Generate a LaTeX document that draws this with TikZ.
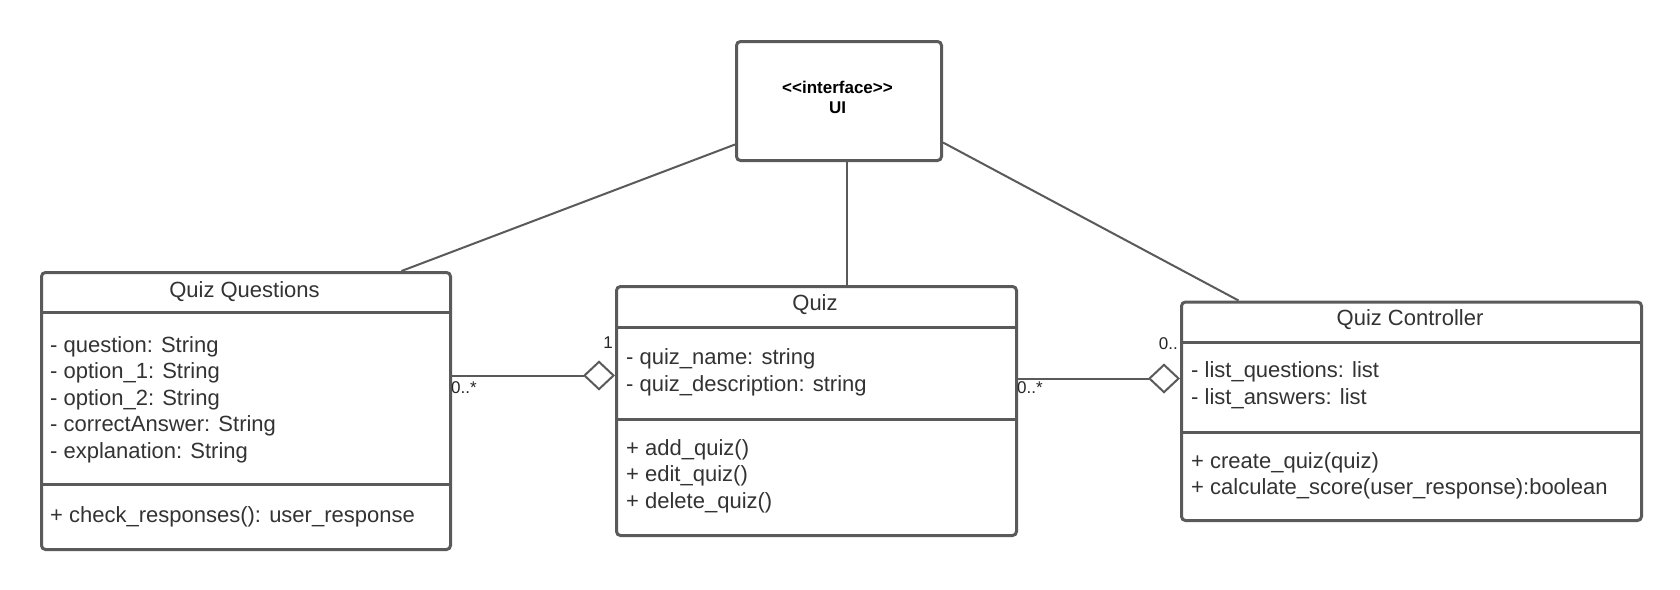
\documentclass[tikz,border=0pt]{standalone}
\usepackage{fontspec}
\setmainfont{Liberation Sans}[Ligatures=TeXOff]
\usetikzlibrary{arrows.meta}
\definecolor{linegray}{HTML}{5A5A5A}
\definecolor{txt}{HTML}{333333}
\begin{document}
\begin{tikzpicture}[x=1pt,y=-1pt,
  classbox/.style={draw=linegray, line width=3pt, rounded corners=4pt, inner sep=0pt, anchor=north west, fill=white},
  sepline/.style={draw=linegray, line width=3pt},
  assoc/.style={draw=linegray, line width=2pt},
  agg/.style={assoc, -{Diamond[fill=white, length=32pt, width=30pt, line width=2pt]}},
  txtline/.style={anchor=base west, inner sep=0pt, text=txt, font=\fontsize{22}{26}\selectfont},
  titletxt/.style={anchor=base, inner sep=0pt, text=txt, font=\fontsize{22}{26}\selectfont},
  uitxt/.style={anchor=base, inner sep=0pt, text=black, font=\bfseries\fontsize{17}{20}\selectfont},
  mult/.style={inner sep=0pt, text=black!85, font=\fontsize{17}{20}\selectfont},
]
\useasboundingbox[fill=white] (0,0) rectangle (1680,589);

% boxes
\node[classbox, minimum width=205pt, minimum height=119pt] (ui) at (735,40) {};
\node[classbox, minimum width=409pt, minimum height=277pt] (qq) at (40,271) {};
\node[classbox, minimum width=400pt, minimum height=249pt] (quiz) at (615,285) {};
\node[classbox, minimum width=460pt, minimum height=218.5pt] (ctrl) at (1180,300.5) {};

% compartment separators
\draw[sepline] (qq.west |- 0,312) -- (qq.east |- 0,312);
\draw[sepline] (qq.west |- 0,484) -- (qq.east |- 0,484);
\draw[sepline] (quiz.west |- 0,327) -- (quiz.east |- 0,327);
\draw[sepline] (quiz.west |- 0,419) -- (quiz.east |- 0,419);
\draw[sepline] (ctrl.west |- 0,342) -- (ctrl.east |- 0,342);
\draw[sepline] (ctrl.west |- 0,432) -- (ctrl.east |- 0,432);

% associations with UI
\draw[assoc] ([yshift=-43.5pt]ui.west) -- ([xshift=155.5pt]qq.north);
\draw[assoc] ([xshift=7.5pt]ui.south) -- ([xshift=7.5pt]ui.south |- quiz.north);
\draw[assoc] ([yshift=-41.5pt]ui.east) -- ([xshift=-173pt]ctrl.north);

% aggregations
\draw[agg] ([yshift=35.5pt]qq.east) -- ([yshift=35.5pt]qq.east -| quiz.west);
\draw[agg] ([yshift=32.5pt]quiz.east) -- ([yshift=32.5pt]quiz.east -| ctrl.west);

% UI text
\node[uitxt] (uistereo) at (837.5,93) {<<interface>>};
\node[uitxt] (uiname) at (837.5,113) {UI};

% Quiz Questions
\node[titletxt] (qqt) at (244.5,297) {Quiz Questions};
\node[txtline] (qqa1) at (50,352) {- question: String};
\node[txtline] (qqa2) at (50,378.5) {- option\_1: String};
\node[txtline] (qqa3) at (50,405) {- option\_2: String};
\node[txtline] (qqa4) at (50,431.5) {- correctAnswer: String};
\node[txtline] (qqa5) at (50,458) {- explanation: String};
\node[txtline] (qqm1) at (50,522) {+ check\_responses(): user\_response};

% Quiz
\node[titletxt] (quizt) at (815,310) {Quiz};
\node[txtline] (quiza1) at (626,364) {- quiz\_name: string};
\node[txtline] (quiza2) at (626,391) {- quiz\_description: string};
\node[txtline] (quizm1) at (626,455) {+ add\_quiz()};
\node[txtline] (quizm2) at (626,481.5) {+ edit\_quiz()};
\node[txtline] (quizm3) at (626,508) {+ delete\_quiz()};

% Quiz Controller
\node[titletxt] (ctrlt) at (1410,325) {Quiz Controller};
\node[txtline] (ctrla1) at (1191,377) {- list\_questions: list};
\node[txtline] (ctrla2) at (1191,404) {- list\_answers: list};
\node[txtline] (ctrlm1) at (1191,468) {+ create\_quiz(quiz)};
\node[txtline] (ctrlm2) at (1191,494) {+ calculate\_score(user\_response):boolean};

% multiplicities
\node[mult, anchor=base east] (mult1) at (613,348) {1};
\node[mult, anchor=base west] (mult2) at (451,393) {0..*};
\node[mult, anchor=base east] (mult3) at (1178,349) {0..};
\node[mult, anchor=base west] (mult4) at (1017,393) {0..*};
\end{tikzpicture}
\end{document}
